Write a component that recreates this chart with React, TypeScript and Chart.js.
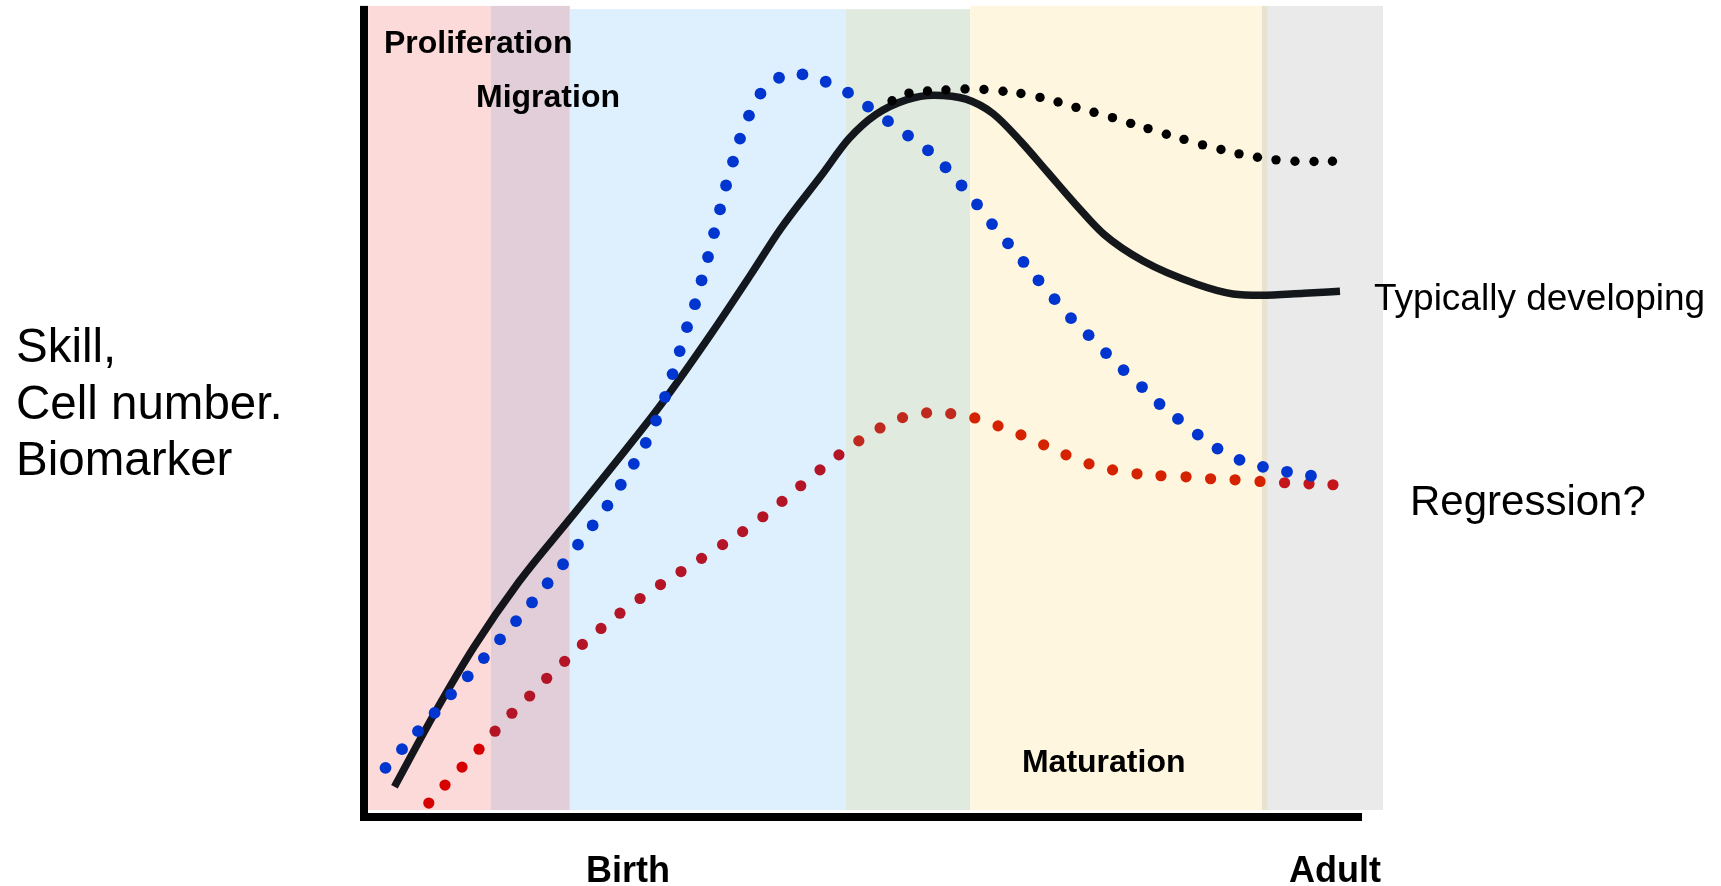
import React, { useEffect, useRef } from 'react';
import { Chart, registerables } from 'chart.js';

Chart.register(...registerables);

// ---------- DATA (x: developmental time 0..100, y: level 0..100) ----------
const typicalX = [2.99, 6.93, 10.79, 15.17, 20.22, 24.81, 29.19, 34.05, 37.98, 40.92, 44.95, 47.6, 50.22, 53.29, 55.89, 59.08, 61.73, 64.47, 67.03, 69.84, 72.62, 76.51, 81.75, 85.28, 88.03, 92.25, 95.78];
const typicalY = [3.73, 12.79, 20.95, 28.94, 36.78, 43.91, 50.92, 59.53, 66.91, 72.57, 79.21, 83.64, 86.59, 88.44, 88.99, 88.5, 86.72, 83.27, 79.58, 75.52, 71.83, 68.51, 65.68, 64.49, 64.33, 64.58, 64.82];

const plateauX = [51.82, 53.48, 55.3, 57.11, 58.98, 60.84, 62.71, 64.47, 66.34, 68.11, 69.87, 71.64, 73.45, 75.24, 76.94, 78.74, 80.47, 82.29, 84.1, 85.87, 87.68, 89.5, 91.36, 93.23, 95.04];
const plateauY = [88.31, 89.24, 89.51, 89.63, 89.75, 89.69, 89.48, 89.2, 88.72, 88.15, 87.49, 86.88, 86.22, 85.52, 84.87, 84.17, 83.55, 82.87, 82.29, 81.76, 81.34, 81.02, 80.85, 80.81, 80.85];

const regressionX = [2.11, 3.73, 5.3, 6.93, 8.54, 10.18, 11.76, 13.35, 14.92, 16.49, 18.02, 19.53, 21.0, 22.44, 23.89, 25.2, 26.48, 27.65, 28.66, 29.54, 30.28, 30.98, 31.7, 32.48, 33.13, 33.76, 34.35, 34.94, 35.53, 36.21, 36.9, 37.78, 38.91, 40.73, 43.03, 45.31, 47.5, 49.46, 51.42, 53.39, 55.35, 57.07, 58.64, 60.16, 61.63, 63.2, 64.72, 66.19, 67.77, 69.38, 71.11, 72.82, 74.54, 76.35, 78.07, 79.88, 81.82, 83.76, 85.92, 88.22, 90.58, 92.93];
const regressionY = [6.06, 8.36, 10.58, 12.83, 15.13, 17.34, 19.59, 21.89, 24.15, 26.45, 28.82, 31.16, 33.58, 35.95, 38.38, 40.96, 43.54, 46.13, 48.87, 51.78, 54.61, 57.44, 60.39, 63.22, 66.17, 69.04, 71.99, 74.91, 77.86, 80.81, 83.64, 86.47, 89.18, 91.14, 91.55, 90.65, 89.3, 87.58, 85.79, 84.01, 82.2, 80.11, 77.86, 75.52, 73.1, 70.73, 68.43, 66.17, 63.84, 61.5, 59.41, 57.2, 55.1, 53.01, 50.92, 49.08, 47.15, 45.42, 44.03, 43.17, 42.56, 42.07];

const lowX = [6.36, 7.95, 9.62, 11.29, 12.86, 14.52, 16.26, 17.93, 19.69, 21.43, 23.26, 25.12, 27.09, 29.1, 31.11, 33.13, 35.19, 37.16, 39.14, 41.02, 42.86, 44.75, 46.61, 48.56, 50.64, 52.85, 55.21, 57.58, 59.94, 62.22, 64.47, 66.7, 68.89, 71.15, 73.46, 75.86, 78.21, 80.67, 83.08, 85.48, 87.93, 90.34, 92.74, 95.09];
const lowY = [1.72, 3.94, 6.15, 8.36, 10.58, 12.79, 14.92, 17.1, 19.19, 21.28, 23.25, 25.13, 26.94, 28.66, 30.26, 31.89, 33.58, 35.18, 37.02, 38.91, 40.84, 42.8, 44.65, 46.37, 47.97, 49.24, 49.82, 49.73, 49.2, 48.22, 47.11, 45.88, 44.65, 43.54, 42.8, 42.31, 42.07, 41.94, 41.7, 41.57, 41.37, 41.21, 41.08, 40.96];

// background phase segments (x edges)
const bandStart = [0.4, 12.46, 20.2, 47.3, 59.5, 88.1, 88.7];
const bandEnd = [12.46, 20.2, 47.3, 59.5, 88.1, 88.7, 100];
const bandTop = [100, 100, 99.6, 99.6, 100, 100, 100];

const phaseLabels = ['Proliferation', 'Migration', 'Maturation'];
const phaseLabelX = [1.96, 10.99, 64.57];
const phaseLabelY = [94.2, 87.58, 5.54];

const xTickValues = [25.9, 95.3];
const xTickLabels = ['Birth', 'Adult'];

const yTitleLines = ['Skill,', 'Cell number.', 'Biomarker'];
const seriesNotes = ['Typically developing', 'Regression?'];

// ---------- STYLE ----------
const bandColors = ['#FDDADA', '#E2CED9', '#DEF0FD', '#E0EADF', '#FFF6DF', '#E8E3D0', '#EAEAEA'];
const FONT = "'Liberation Sans', Arial, sans-serif";

const zip = (xs: number[], ys: number[]) => xs.map((x, i) => ({ x, y: ys[i] }));

const decorPlugin = {
  id: 'decor',
  beforeDatasetsDraw(chart: any) {
    const { ctx, scales } = chart;
    const xs = scales.x, ys = scales.y;
    ctx.save();
    for (let i = 0; i < bandStart.length; i++) {
      const x0 = xs.getPixelForValue(bandStart[i]);
      const x1 = xs.getPixelForValue(bandEnd[i]);
      const y0 = ys.getPixelForValue(bandTop[i]);
      const y1 = ys.getPixelForValue(0.86);
      ctx.fillStyle = bandColors[i];
      ctx.fillRect(x0, y0, x1 - x0, y1 - y0);
    }
    // axes
    ctx.fillStyle = '#000';
    const ax = xs.getPixelForValue(0);
    const ayTop = ys.getPixelForValue(100);
    const ayBot = ys.getPixelForValue(0);
    ctx.fillRect(ax - 4, ayTop, 8, ayBot - ayTop + 4);
    const xEnd = xs.getPixelForValue(97.94);
    ctx.fillRect(ax - 4, ayBot - 4, xEnd - ax + 4, 8);
    ctx.restore();
  },
  afterDraw(chart: any) {
    const { ctx, scales } = chart;
    const xs = scales.x, ys = scales.y;
    ctx.save();
    ctx.fillStyle = '#000';
    ctx.textBaseline = 'alphabetic';
    ctx.textAlign = 'left';
    ctx.font = `bold 32px ${FONT}`;
    phaseLabels.forEach((t, i) => {
      ctx.fillText(t, xs.getPixelForValue(phaseLabelX[i]), ys.getPixelForValue(phaseLabelY[i]));
    });
    ctx.textAlign = 'center';
    ctx.font = `bold 36px ${FONT}`;
    xTickLabels.forEach((t, i) => {
      ctx.fillText(t, xs.getPixelForValue(xTickValues[i]), 882);
    });
    ctx.textAlign = 'left';
    ctx.font = `47.5px ${FONT}`;
    yTitleLines.forEach((t, i) => ctx.fillText(t, 16, 362 + i * 56.5));
    ctx.font = `37px ${FONT}`;
    ctx.fillText(seriesNotes[0], 1374, 310);
    ctx.font = `42px ${FONT}`;
    ctx.fillText(seriesNotes[1], 1410, 515);
    ctx.restore();
  },
};

export default function App() {
  const ref = useRef<HTMLCanvasElement | null>(null);
  useEffect(() => {
    const canvas = ref.current;
    if (!canvas) return;
    const chart = new Chart(canvas, {
      type: 'line',
      data: {
        datasets: [
          {
            label: 'Typically developing',
            data: zip(typicalX, typicalY),
            borderColor: 'rgba(5,10,15,0.94)',
            borderWidth: 7.5,
            borderCapStyle: 'butt',
            pointRadius: 0,
            cubicInterpolationMode: 'monotone',
            order: 4,
          },
          {
            label: 'Plateau',
            data: zip(plateauX, plateauY),
            showLine: false,
            pointRadius: 4.7,
            pointBorderWidth: 0,
            pointBackgroundColor: '#000000',
            order: 3,
          },
          {
            label: 'Regression',
            data: zip(lowX, lowY),
            showLine: false,
            pointRadius: 5.6,
            pointBorderWidth: 0,
            pointBackgroundColor: (c: any) => {
              const x = c.raw ? c.raw.x : 0;
              if (x < 12) return '#D60000';
              if (x < 47.3) return '#B31426';
              if (x < 59.5) return '#C02A1E';
              if (x < 88) return '#D52200';
              return '#C3151B';
            },
            order: 2,
          },
          {
            label: 'Early peak',
            data: zip(regressionX, regressionY),
            showLine: false,
            pointRadius: 5.9,
            pointBorderWidth: 0,
            pointBackgroundColor: '#0035D0',
            order: 1,
          },
        ],
      },
      options: {
        animation: false,
        responsive: false,
        events: [],
        layout: { padding: { left: 364, right: 338, top: 4, bottom: 69 } },
        scales: {
          x: { type: 'linear', min: 0, max: 100, display: false },
          y: { type: 'linear', min: 0, max: 100, display: false },
        },
        plugins: {
          legend: { display: false },
          tooltip: { enabled: false },
        },
      },
      plugins: [decorPlugin],
    } as any);
    return () => chart.destroy();
  }, []);
  return (
    <canvas
      ref={ref}
      width={1721}
      height={886}
      style={{ position: 'fixed', left: 0, top: 0, width: 1721, height: 886, display: 'block', background: '#fff' }}
    />
  );
}
